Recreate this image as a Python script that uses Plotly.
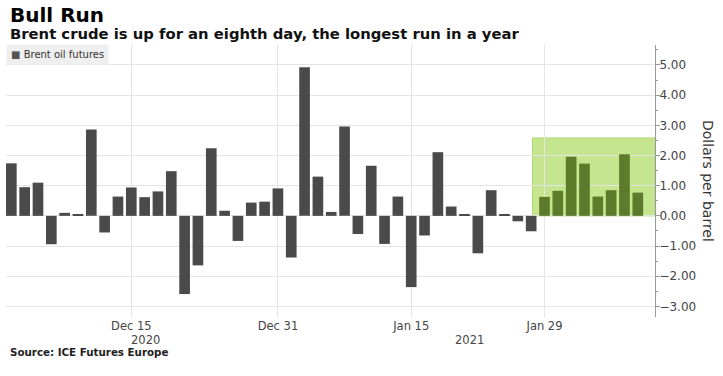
import plotly.graph_objects as go

# ---- data ----
dates = [
    "2020-12-02", "2020-12-03", "2020-12-04", "2020-12-07", "2020-12-08", "2020-12-09",
    "2020-12-10", "2020-12-11", "2020-12-14", "2020-12-15", "2020-12-16", "2020-12-17",
    "2020-12-18", "2020-12-21", "2020-12-22", "2020-12-23", "2020-12-24", "2020-12-28",
    "2020-12-29", "2020-12-30", "2020-12-31", "2021-01-04", "2021-01-05", "2021-01-06",
    "2021-01-07", "2021-01-08", "2021-01-11", "2021-01-12", "2021-01-13", "2021-01-14",
    "2021-01-15", "2021-01-18", "2021-01-19", "2021-01-20", "2021-01-21", "2021-01-22",
    "2021-01-25", "2021-01-26", "2021-01-27", "2021-01-28", "2021-01-29", "2021-02-01",
    "2021-02-02", "2021-02-03", "2021-02-04", "2021-02-05", "2021-02-08", "2021-02-09",
]
changes = [
    1.74, 0.95, 1.10, -0.94, 0.10, 0.04, 2.86, -0.55, 0.64, 0.94, 0.62, 0.81,
    1.48, -2.59, -1.64, 2.24, 0.17, -0.83, 0.44, 0.47, 0.91, -1.38, 4.92, 1.30,
    0.13, 2.96, -0.60, 1.66, -0.93, 0.64, -2.36, -0.65, 2.11, 0.31, 0.03, -1.24,
    0.85, 0.04, -0.18, -0.51, 0.63, 0.83, 1.96, 1.73, 0.64, 0.85, 2.04, 0.77,
]
tick_dates = ["2020-12-15", "2020-12-31", "2021-01-15", "2021-01-29"]
tick_labels = ["Dec 15", "Dec 31", "Jan 15", "Jan 29"]
streak_len = 8

# ---- styling ----
FONT = "DejaVu Sans"
GRAY_BAR = "#4a4a4a"
GREEN_BAR = "#5c7b2b"
GRID = "#e4e4e4"
n = len(dates)
streak_start = n - streak_len
bar_colors = [GREEN_BAR if i >= streak_start else GRAY_BAR for i in range(n)]

x_lo, x_hi = -0.4, n + 0.29
first_2021 = next(i for i, d in enumerate(dates) if d.startswith("2021"))
year_mid_2020 = (x_lo + first_2021 - 0.5) / 2
year_mid_2021 = (first_2021 - 0.5 + x_hi) / 2

fig = go.Figure()
fig.add_trace(go.Bar(
    x=dates, y=changes, marker=dict(color=bar_colors, line=dict(width=0)),
    width=0.8, name="Brent oil futures", showlegend=False,
))

fig.add_shape(
    type="rect", xref="x", yref="y",
    x0=streak_start - 0.9, x1=x_hi, y0=0, y1=2.58,
    fillcolor="#c5e68f", line=dict(color="#afd872", width=1), layer="below",
)

ann = [
    dict(text="<b>Bull Run</b>", x=(8 - 6) / 649, y=(317 - 15) / 272,
         font=dict(size=20, color="#000"), xanchor="left", yanchor="middle"),
    dict(text="<b>Brent crude is up for an eighth day, the longest run in a year</b>",
         x=(8 - 6) / 649, y=(317 - 34) / 272,
         font=dict(size=14.8, color="#111"), xanchor="left", yanchor="middle"),
    dict(text="<span style='color:#555'>■</span> Brent oil futures", x=0, y=(317 - 54) / 272,
         font=dict(size=10, color="#333"), xanchor="left", yanchor="middle",
         bgcolor="#efefef", borderpad=4),
    dict(text="<b>Source: ICE Futures Europe</b>", x=(8 - 6) / 649, y=(317 - 352) / 272,
         font=dict(size=10.3, color="#222"), xanchor="left", yanchor="middle"),
    dict(text="Dollars per barrel", x=(708 - 6) / 649, y=0.5, textangle=90,
         font=dict(size=14, color="#333"), xanchor="center", yanchor="middle"),
]
for a in ann:
    a.update(xref="paper", yref="paper", showarrow=False)
    fig.add_annotation(**a)

for label, xm in (("2020", year_mid_2020), ("2021", year_mid_2021)):
    fig.add_annotation(text=label, x=xm, xref="x", y=(317 - 339.5) / 272, yref="paper",
                       showarrow=False, font=dict(size=11.5, color="#444"),
                       xanchor="center", yanchor="middle")

fig.update_layout(
    width=723, height=376,
    margin=dict(l=6, r=68, t=45, b=59),
    paper_bgcolor="white", plot_bgcolor="white",
    font=dict(family=FONT, color="#444"),
    bargap=0.2,
)
fig.update_xaxes(
    type="category", range=[x_lo, x_hi],
    tickmode="array", tickvals=tick_dates, ticktext=tick_labels,
    showgrid=True, gridcolor=GRID, gridwidth=1,
    ticks="", tickfont=dict(size=11.5, color="#444"), showline=False, zeroline=False,
)
fig.update_yaxes(
    side="right", range=[-3.35, 5.66],
    tickmode="linear", tick0=0, dtick=1, tickformat=".2f",
    showgrid=True, gridcolor=GRID, gridwidth=1, zeroline=False,
    showline=True, linecolor="#9a9a9a", linewidth=1,
    ticks="outside", ticklen=4, tickcolor="#9a9a9a",
    ticklabelstandoff=-3,
    minor=dict(dtick=0.5, ticks="outside", ticklen=2, tickcolor="#9a9a9a", showgrid=False),
    tickfont=dict(size=12, color="#444"),
)

fig.write_html("out.html", config={"displayModeBar": False},
               post_script="document.body.style.margin='0';")
